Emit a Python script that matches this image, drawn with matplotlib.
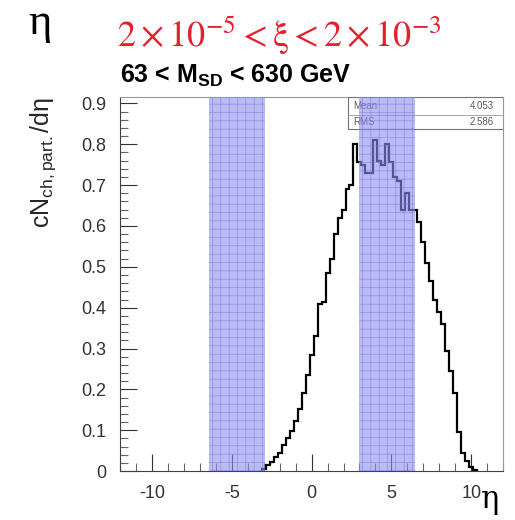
import matplotlib
matplotlib.use("Agg")
import matplotlib.pyplot as plt
from matplotlib.ticker import MultipleLocator
from matplotlib.patches import Rectangle

plt.rcParams['font.family'] = ['Liberation Sans', 'DejaVu Sans']
plt.rcParams['mathtext.fontset'] = 'custom'
plt.rcParams['mathtext.rm'] = 'Liberation Sans'
plt.rcParams['mathtext.it'] = 'Liberation Sans:italic'
plt.rcParams['mathtext.bf'] = 'Liberation Sans:bold'
plt.rcParams['hatch.linewidth'] = 0.5
plt.rcParams['axes.unicode_minus'] = False

# histogram: left bin edge start, bin width, contents
first_edge = -3.125
bin_width = 0.25
counts = [0.005, 0.015, 0.022, 0.035, 0.045, 0.063, 0.080, 0.097, 0.122, 0.153,
          0.190, 0.235, 0.285, 0.330, 0.410, 0.415, 0.485, 0.520, 0.580, 0.620,
          0.640, 0.690, 0.700, 0.800, 0.757, 0.750, 0.730, 0.730, 0.810, 0.760,
          0.750, 0.800, 0.757, 0.720, 0.710, 0.640, 0.680, 0.640, 0.640, 0.610,
          0.560, 0.510, 0.465, 0.420, 0.390, 0.360, 0.294, 0.246, 0.190, 0.095,
          0.044, 0.025, 0.010, 0.003]
edges = [first_edge + i * bin_width for i in range(len(counts) + 1)]

# eta acceptance bands
bands = [(-6.4, -2.9), (3.0, 6.5)]

mean_val = "4.053"
rms_val = "2.586"

fig = plt.figure(figsize=(5.15, 5.2), dpi=100)
ax = fig.add_axes([0.233, 0.094, 0.744, 0.719])

ax.stairs(counts, edges, color='black', linewidth=1.6, zorder=2)

for lo, hi in bands:
    ax.axvspan(lo, hi, facecolor=(0.55, 0.55, 0.95), edgecolor=(0.45, 0.45, 0.85),
               hatch='++', linewidth=0, alpha=0.6, zorder=4)

# stats box
ax.add_patch(Rectangle((0.595, 0.914), 0.405, 0.086, transform=ax.transAxes,
                       facecolor='white', edgecolor='0.45', linewidth=0.8, zorder=3))
ax.plot([0.595, 1.0], [0.953, 0.953], transform=ax.transAxes, color='0.6', lw=0.6, zorder=3)
ax.text(0.61, 0.976, 'Mean', transform=ax.transAxes, fontsize=7, color='0.35',
        va='center', zorder=3)
ax.text(0.61, 0.934, 'RMS', transform=ax.transAxes, fontsize=7, color='0.35',
        va='center', zorder=3)
ax.text(0.975, 0.976, mean_val, transform=ax.transAxes, fontsize=7, color='0.35',
        va='center', ha='right', zorder=3)
ax.text(0.975, 0.934, rms_val, transform=ax.transAxes, fontsize=7, color='0.35',
        va='center', ha='right', zorder=3)

ax.set_xlim(-12, 12)
ax.set_ylim(0, 0.915)
ax.xaxis.set_major_locator(MultipleLocator(5))
ax.xaxis.set_minor_locator(MultipleLocator(1))
ax.yaxis.set_minor_locator(MultipleLocator(0.02))
ax.set_yticks([0, 0.1, 0.2, 0.3, 0.4, 0.5, 0.6, 0.7, 0.8, 0.9])
ax.set_yticklabels(['0', '0.1', '0.2', '0.3', '0.4', '0.5', '0.6', '0.7', '0.8', '0.9'])
ax.tick_params(which='major', direction='in', length=12, width=0.8, labelsize=13,
               colors='0.2', pad=10)
ax.tick_params(which='minor', direction='in', length=6, width=0.8, colors='0.4')
ax.tick_params(top=False, right=False)
for s in ['top', 'right']:
    ax.spines[s].set_color('0.6')
for s in ['left', 'bottom']:
    ax.spines[s].set_color('0.25')

ax.text(-0.2, 1.0, r'cN$_{\rm ch,part.}$/d$\mathrm{\eta}$', transform=ax.transAxes,
        rotation=90, fontsize=18, color='0.15', ha='center', va='top')
fig.text(0.952, 0.04, 'η', fontsize=22, family='DejaVu Serif', ha='center', va='center')

fig.text(0.078, 0.955, 'η', fontsize=32, family='Liberation Serif', ha='center', va='center')
fig.text(0.228, 0.932, r'$2\times10^{-5}<\mathrm{ξ}<2\times10^{-3}$', math_fontfamily='stix',
         fontsize=26, color=(0.9, 0.12, 0.18), ha='left', va='center')
fig.text(0.233, 0.855, r'63 < $\mathbf{M_{SD}}$ < 630 GeV', fontsize=18,
         fontweight='bold', ha='left', va='center')

fig.savefig('out.png', dpi=100)
